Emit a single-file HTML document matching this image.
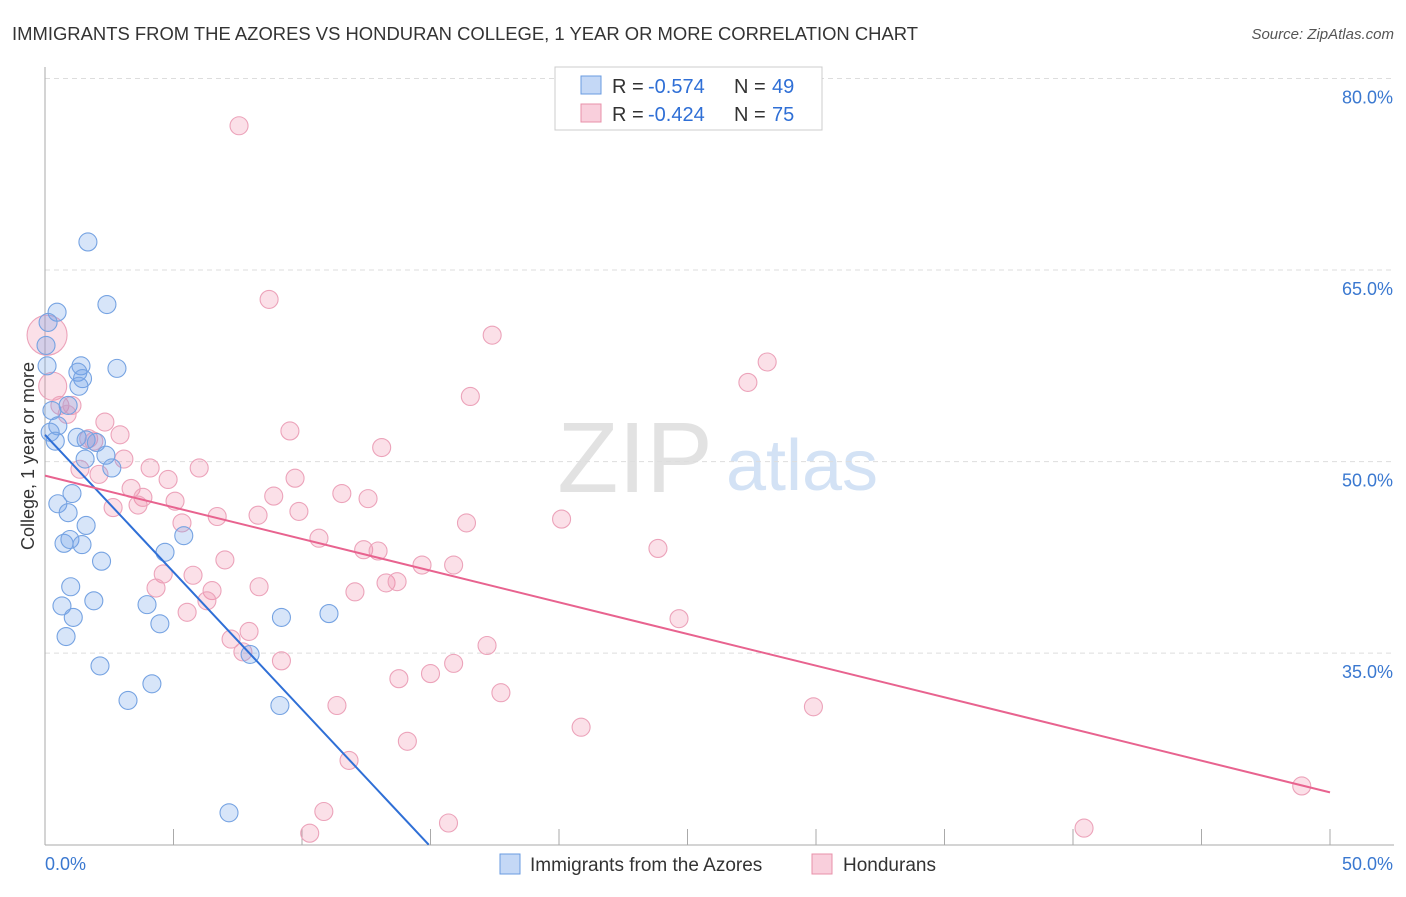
<!DOCTYPE html>
<html><head><meta charset="utf-8"><style>
body{margin:0;background:#fff;font-family:"Liberation Sans",sans-serif;}
svg text{font-family:"Liberation Sans",sans-serif;}
</style></head><body>
<svg id="chart" width="1406" height="892" xmlns="http://www.w3.org/2000/svg">
<text x="12" y="40" font-size="18" fill="#333" textLength="906" lengthAdjust="spacingAndGlyphs">IMMIGRANTS FROM THE AZORES VS HONDURAN COLLEGE, 1 YEAR OR MORE CORRELATION CHART</text>
<text x="1394" y="39" font-size="15" fill="#555" text-anchor="end" font-style="italic">Source: ZipAtlas.com</text>
<g>
<text x="635" y="492" font-size="100" fill="#e2e2e2" text-anchor="middle" font-family="Liberation Serif">ZIP</text>
<text x="802" y="490" font-size="72" fill="#d3e2f5" text-anchor="middle">atlas</text>
</g>
<g id="grid"></g>
<g id="axes"></g>
<g id="pts"></g>
<g id="trend"></g>
<text transform="translate(34,456) rotate(-90)" font-size="18" fill="#333" text-anchor="middle">College, 1 year or more</text>
<g>
<rect x="555" y="67" width="267" height="63" fill="#fff" stroke="#ccc"/>
<rect x="581" y="76" width="20" height="18" fill="#c4d8f6" stroke="#6a9be0"/>
<rect x="581" y="104" width="20" height="18" fill="#f9cfdc" stroke="#e890aa"/>
<text x="612" y="93" font-size="20" fill="#333">R =</text>
<text x="648" y="93" font-size="20" fill="#2f6fd6">-0.574</text>
<text x="734" y="93" font-size="20" fill="#333">N =</text>
<text x="772" y="93" font-size="20" fill="#2f6fd6">49</text>
<text x="612" y="121" font-size="20" fill="#333">R =</text>
<text x="648" y="121" font-size="20" fill="#2f6fd6">-0.424</text>
<text x="734" y="121" font-size="20" fill="#333">N =</text>
<text x="772" y="121" font-size="20" fill="#2f6fd6">75</text>
</g>
<g>
<rect x="500" y="854" width="20" height="20" fill="#c4d8f6" stroke="#6a9be0"/>
<text x="530" y="871" font-size="19" fill="#333">Immigrants from the Azores</text>
<rect x="812" y="854" width="20" height="20" fill="#f9cfdc" stroke="#e890aa"/>
<text x="843" y="871" font-size="19" fill="#333">Hondurans</text>
</g>
</svg>
<script>
const yTicks=[35,50,65,80];
const yTickLabels=["35.0%","50.0%","65.0%","80.0%"];
const xTickLabels=["0.0%","50.0%"];
const blueX=[1.67,0.47,2.41,0.12,0.04,0.08,1.4,2.8,1.28,1.46,1.32,0.9,0.27,0.5,0.2,0.4,1.25,1.6,2.0,2.37,1.56,2.6,1.05,0.5,0.9,1.6,0.74,0.97,1.44,5.4,4.67,2.2,1.0,1.9,0.66,3.97,1.1,4.47,0.82,9.2,11.05,7.98,2.14,4.16,3.23,9.14,7.16];
const blueY=[67.2,61.7,62.3,60.9,59.1,57.5,57.5,57.3,57.0,56.5,55.9,54.4,54.0,52.8,52.3,51.6,51.9,51.7,51.5,50.5,50.2,49.5,47.5,46.7,46.0,45.0,43.6,43.9,43.5,44.2,42.9,42.2,40.2,39.1,38.7,38.8,37.8,37.3,36.3,37.8,38.1,34.9,34.0,32.6,31.3,30.9,22.5];
const pinkX=[7.55,8.72,17.4,0.08,28.1,27.35,0.3,16.55,0.58,1.05,0.86,2.33,9.53,2.92,1.7,1.9,13.1,3.07,1.36,4.09,6.0,2.1,4.79,9.73,3.35,3.81,8.9,11.55,12.57,2.65,3.62,5.06,6.7,8.29,9.88,5.33,16.4,20.1,10.66,7.0,12.4,12.96,23.85,14.67,15.9,4.6,5.76,8.33,13.27,13.7,12.06,4.32,6.5,6.3,5.53,24.67,7.94,7.24,17.2,7.7,9.2,15.9,15.0,13.77,17.74,11.36,29.9,20.86,14.1,11.83,10.85,10.3,15.7,40.43,48.9];
const pinkY=[76.3,62.7,59.9,59.9,57.8,56.2,55.9,55.1,54.4,54.4,53.7,53.1,52.4,52.1,51.8,51.6,51.1,50.2,49.4,49.5,49.5,49.0,48.6,48.7,47.9,47.2,47.3,47.5,47.1,46.4,46.6,46.9,45.7,45.8,46.1,45.2,45.2,45.5,44.0,42.3,43.1,43.0,43.2,41.9,41.9,41.2,41.1,40.2,40.5,40.6,39.8,40.1,39.9,39.1,38.2,37.7,36.7,36.1,35.6,35.1,34.4,34.2,33.4,33.0,31.9,30.9,30.8,29.2,28.1,26.6,22.6,20.9,21.7,21.3,24.6];
const pinkR=[9,9,9,20,9,9,14,9,9,9,9,9,9,9,9,9,9,9,9,9,9,9,9,9,9,9,9,9,9,9,9,9,9,9,9,9,9,9,9,9,9,9,9,9,9,9,9,9,9,9,9,9,9,9,9,9,9,9,9,9,9,9,9,9,9,9,9,9,9,9,9,9,9,9,9];
const blueTrend=[52.1,-2.15];
const pinkTrend=[48.9,-0.496];
const NS="http://www.w3.org/2000/svg";
const X0=45,X1=1330,Y80=78.5,PXPER=12.77;
function sx(v){return X0+(v/50)*(X1-X0);}
function sy(v){return Y80+(80-v)*PXPER;}
function mk(tag,attrs,parent){const e=document.createElementNS(NS,tag);for(const k in attrs)e.setAttribute(k,attrs[k]);document.getElementById(parent).appendChild(e);return e;}
yTicks.forEach((t,i)=>{
 const g=mk('line',{x1:45,x2:1394,y1:sy(t),y2:sy(t),stroke:'#ddd','stroke-dasharray':'5,4'},'grid');
 
 
 const l=mk('text',{x:1393,y:sy(t)+25,'font-size':18,fill:'#3a78d0','text-anchor':'end'},'axes');
 l.textContent=yTickLabels[i];
 
 
});
const ax=mk('line',{x1:45,x2:45,y1:67,y2:845,stroke:'#aaa'},'axes');


const bx=mk('line',{x1:45,x2:1394,y1:845,y2:845,stroke:'#aaa'},'axes');


for(let i=0;i<=10;i++){const t=mk('line',{x1:sx(i*5),x2:sx(i*5),y1:829,y2:845,stroke:'#aaa'},'axes');
 
 }
[[0,'start',45],[50,'end',1393]].forEach((d,i)=>{const l=mk('text',{x:d[2],y:870,'font-size':18,fill:'#3a78d0','text-anchor':d[1]},'axes');l.textContent=xTickLabels[i];
 
 });
pinkX.forEach((x,i)=>{const c=mk('circle',{cx:sx(x),cy:sy(pinkY[i]),r:pinkR[i],fill:'rgba(240,130,165,0.25)',stroke:'#eca3ba','stroke-width':1.1},'pts');
 
 });
blueX.forEach((x,i)=>{const c=mk('circle',{cx:sx(x),cy:sy(blueY[i]),r:9,fill:'rgba(110,160,235,0.28)',stroke:'#76a3e2','stroke-width':1.1},'pts');
 
 });
const bEnd=(20-blueTrend[0])/blueTrend[1];
const bl=mk('line',{x1:sx(0),y1:sy(blueTrend[0]),x2:sx(bEnd),y2:sy(20),stroke:'#2f6fd6','stroke-width':2},'trend');


const pl=mk('line',{x1:sx(0),y1:sy(pinkTrend[0]),x2:sx(50),y2:sy(pinkTrend[0]+pinkTrend[1]*50),stroke:'#e8638f','stroke-width':2},'trend');


</script>
</body></html>
